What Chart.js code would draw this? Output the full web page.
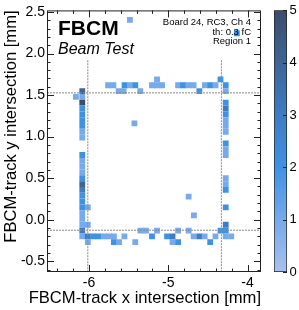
<!DOCTYPE html>
<html><head><meta charset="utf-8">
<script src="https://cdn.jsdelivr.net/npm/chart.js@4.4.1/dist/chart.umd.min.js"></script>
<style>
html,body{margin:0;padding:0;background:#fff;}
#wrap{position:relative;width:299px;height:310px;overflow:hidden;}
#main{position:absolute;left:0;top:0;}
#cbar{position:absolute;left:268px;top:0;}
</style></head><body>
<div id="wrap">
<canvas id="main" width="299" height="310"></canvas>
<canvas id="cbar" width="31" height="310"></canvas>
</div>
<script>
// ---- data (bin centres in mm, entries per bin) ----
const binX = [
  -5.142,-4.341,
  -5.759,-5.692,-5.551,-5.484,-5.416,-5.205,-5.142,-5.078,-4.876,-4.813,-4.747,-4.680,-4.538,-4.471,-4.404,-4.275,
  -6.085,-5.627,-5.563,-5.353,-4.608,-4.275,
  -6.085,-6.165,-6.085,-6.085,-6.085,-6.085,-6.085,-6.085,-6.085,-6.085,-6.085,-6.085,-6.085,-6.085,-6.085,-6.085,-6.085,-6.085,-6.085,-6.085,-6.085,-6.085,-6.085,-6.085,
  -6.015,-6.015,-6.015,-6.015,
  -4.275,-4.275,-4.275,-4.275,-4.275,-4.275,-4.275,-4.275,-4.275,-4.275,-4.275,-4.275,-4.275,-4.275,-4.275,-4.275,-4.341,-4.205,
  -5.351,-5.281,-5.142,-4.876,-4.743,
  -5.946,-5.882,-5.813,-5.749,-5.686,-5.553,-5.205,-5.015,-4.946,-4.680,-4.608,-4.541,-4.404,
  -5.686,-5.620,-5.416,-4.946,-4.876,-4.471,
  -5.427,-4.743,-4.676,-5.484,-4.135
];
const binY = [
  1.689,1.689,
  1.619,1.619,1.619,1.619,1.619,1.619,1.619,1.619,1.619,1.619,1.619,1.619,1.619,1.619,1.619,1.619,
  1.549,1.549,1.549,1.549,1.549,1.549,
  1.479,1.479,1.409,1.339,1.269,1.199,1.129,1.059,0.989,0.779,0.709,0.639,0.569,0.499,0.429,0.359,0.289,0.219,0.149,0.079,0.009,-0.061,-0.131,-0.201,
  0.149,-0.061,-0.201,-0.271,
  1.409,1.339,1.269,1.199,1.129,1.059,0.919,0.849,0.779,0.499,0.429,0.359,0.149,-0.061,-0.131,-0.201,-0.131,-0.201,
  -0.131,-0.131,-0.131,-0.131,-0.131,
  -0.201,-0.201,-0.201,-0.201,-0.201,-0.201,-0.201,-0.201,-0.201,-0.201,-0.201,-0.201,-0.201,
  -0.271,-0.271,-0.271,-0.271,-0.271,-0.271,
  1.159,0.277,0.051,2.406,2.245
];
const binCount = [
  1,2,
  1,1,2,1,2,1,1,1,1,2,1,1,1,2,1,2,
  4,1,1,1,2,1,
  1,1,5,2,2,2,2,1,1,2,1,1,1,2,4,3,2,2,2,1,1,1,3,1,
  1,1,3,1,
  2,3,2,1,1,1,2,1,1,1,1,2,2,3,2,1,2,1,
  1,1,1,1,1,
  2,2,1,1,1,1,2,2,3,1,3,1,1,
  2,1,1,1,2,2,
  1,1,1,1,2
];
const xTickValues = [-6, -5, -4];
const yTickValues = [-0.5, 0, 0.5, 1, 1.5, 2, 2.5];
const zTickValues = [0, 1, 2, 3, 4, 5];
const xRange = [-6.53, -3.83];
const yRange = [-0.63, 2.52];
const zRange = [0, 5];
const xMinorStep = 0.2;
const yMinorStep = 0.1;
const binSize = 0.07;
const cutX = [-6.015, -4.33];
const cutY = [1.527, -0.127];
const cutXTop = 1.92;
const xTitle = 'FBCM-track x intersection [mm]';
const yTitle = 'FBCM-track y intersection [mm]';
const labelMain = 'FBCM';
const labelSub = 'Beam Test';
const infoLines = ['Board 24, RC3, Ch 4', 'th: 0.3 fC', 'Region 1'];

// ---- styling ----
const FONT = '"Liberation Sans", Arial, Helvetica, sans-serif';
Chart.defaults.font.family = FONT;
Chart.defaults.color = '#000';
const palette = [[168,192,238],[118,170,236],[62,146,230],[62,124,196],[61,101,150],[60,76,107]];
function colorFor(v) {
  const t = Math.max(zRange[0], Math.min(zRange[1], v)) / (zRange[1] - zRange[0]) * (palette.length - 1);
  const i = Math.min(palette.length - 2, Math.floor(t));
  const f = t - i, a = palette[i], b = palette[i + 1];
  return 'rgb(' + a.map((c, k) => Math.round(c + (b[k] - c) * f)).join(',') + ')';
}

const binPoints = binX.map((x, k) => ({x: x, y: binY[k], c: binCount[k]}));
const cutLines = [
  [{x: cutX[0], y: cutXTop}, {x: cutX[0], y: yRange[0]}],
  [{x: cutX[1], y: cutXTop}, {x: cutX[1], y: yRange[0]}],
  [{x: xRange[0], y: cutY[0]}, {x: xRange[1], y: cutY[0]}],
  [{x: xRange[0], y: cutY[1]}, {x: xRange[1], y: cutY[1]}]
];

function minorValues(min, max, step) {
  const out = [];
  for (let k = Math.ceil(min / step - 1e-9); k <= Math.floor(max / step + 1e-9); k++) out.push(+(k * step).toFixed(6));
  return out;
}

const framePlugin = {
  id: 'frame',
  afterDraw(chart) {
    const {ctx, chartArea: a, scales: {x, y}} = chart;
    ctx.save();
    ctx.strokeStyle = '#222';
    ctx.lineWidth = 1;
    ctx.strokeRect(a.left + 0.5, a.top + 0.5, a.right - a.left - 1, a.bottom - a.top - 1);
    ctx.beginPath();
    minorValues(xRange[0], xRange[1], xMinorStep).forEach(v => {
      const major = xTickValues.some(t => Math.abs(t - v) < 1e-6);
      const L = major ? 7 : 3.5;
      const px = Math.round(x.getPixelForValue(v)) + 0.5;
      ctx.moveTo(px, a.bottom); ctx.lineTo(px, a.bottom - L);
      ctx.moveTo(px, a.top); ctx.lineTo(px, a.top + L);
    });
    minorValues(yRange[0], yRange[1], yMinorStep).forEach(v => {
      const major = yTickValues.some(t => Math.abs(t - v) < 1e-6);
      const L = major ? 7 : 3.5;
      const py = Math.round(y.getPixelForValue(v)) + 0.5;
      ctx.moveTo(a.left, py); ctx.lineTo(a.left + L, py);
      ctx.moveTo(a.right, py); ctx.lineTo(a.right - L, py);
    });
    ctx.stroke();

    ctx.fillStyle = '#000';
    ctx.textBaseline = 'alphabetic';
    ctx.textAlign = 'left';
    ctx.font = 'bold 21px ' + FONT;
    ctx.fillText(labelMain, 58, 35);
    ctx.font = 'italic 16px ' + FONT;
    ctx.fillText(labelSub, 58, 53.5);
    ctx.textAlign = 'right';
    ctx.font = '9.5px ' + FONT;
    infoLines.forEach((t, i) => ctx.fillText(t, 251, 25 + i * 9.7));
    ctx.font = '16.6px ' + FONT;
    ctx.fillText(xTitle, a.right, 302.5);
    ctx.translate(15.5, a.top);
    ctx.rotate(-Math.PI / 2);
    ctx.fillText(yTitle, 0, 0);
    ctx.restore();
  }
};

new Chart(document.getElementById('main'), {
  type: 'scatter',
  data: {
    datasets: [
      {
        data: binPoints,
        order: 2,
        pointStyle: 'rect',
        borderWidth: 0,
        pointRadius: (c) => {
          const ys = c.chart.scales.y;
          return Math.abs(ys.getPixelForValue(binSize) - ys.getPixelForValue(0)) / Math.SQRT2;
        },
        backgroundColor: (c) => colorFor(c.raw ? c.raw.c : 0)
      },
      ...cutLines.map(pts => ({
        data: pts,
        order: 0,
        showLine: true,
        pointRadius: 0,
        borderColor: '#8a8a8a',
        borderWidth: 1,
        borderDash: [2, 1]
      }))
    ]
  },
  options: {
    responsive: false,
    animation: false,
    events: [],
    layout: {padding: {left: 0, right: 38, top: 7, bottom: 0}},
    plugins: {legend: {display: false}, tooltip: {enabled: false}},
    scales: {
      x: {
        type: 'linear', min: xRange[0], max: xRange[1],
        afterBuildTicks: s => { s.ticks = xTickValues.map(v => ({value: v})); },
        afterFit: s => { s.height = 38; },
        grid: {display: false, drawTicks: false},
        border: {display: false},
        ticks: {autoSkip: false, maxRotation: 0, padding: 3, color: '#000', font: {size: 14},
                callback: v => String(v)}
      },
      y: {
        type: 'linear', min: yRange[0], max: yRange[1],
        afterBuildTicks: s => { s.ticks = yTickValues.map(v => ({value: v})); },
        afterFit: s => { s.width = 47; },
        grid: {display: false, drawTicks: false},
        border: {display: false},
        ticks: {autoSkip: false, padding: 2, color: '#000', font: {size: 14},
                callback: v => Number(v).toFixed(1)}
      }
    }
  },
  plugins: [framePlugin]
});

// ---- colour bar ----
const cbarTicks = {
  id: 'cbarTicks',
  afterDraw(chart) {
    const {ctx, chartArea: a, scales: {y}} = chart;
    ctx.save();
    ctx.strokeStyle = '#222';
    ctx.lineWidth = 1;
    ctx.beginPath();
    zTickValues.forEach(v => {
      const py = Math.round(y.getPixelForValue(v)) + 0.5;
      ctx.moveTo(a.right, py); ctx.lineTo(a.right - 4, py);
    });
    ctx.stroke();
    ctx.restore();
  }
};
new Chart(document.getElementById('cbar'), {
  type: 'bar',
  data: {
    labels: [''],
    datasets: [{
      data: [[zRange[0], zRange[1]]],
      barPercentage: 1, categoryPercentage: 1,
      borderColor: '#222', borderWidth: 1, borderSkipped: false,
      backgroundColor: (c) => {
        const ch = c.chart;
        if (!ch.chartArea) return colorFor(2);
        const ys = ch.scales.y;
        const g = ch.ctx.createLinearGradient(0, ys.getPixelForValue(zRange[0]), 0, ys.getPixelForValue(zRange[1]));
        palette.forEach((p, i) => g.addColorStop(i / (palette.length - 1), 'rgb(' + p.join(',') + ')'));
        return g;
      }
    }]
  },
  options: {
    responsive: false,
    animation: false,
    events: [],
    layout: {padding: {left: 6, right: 0, top: 8, bottom: 38}},
    plugins: {legend: {display: false}, tooltip: {enabled: false}},
    scales: {
      x: {display: false},
      y: {
        position: 'right', min: zRange[0], max: zRange[1],
        afterBuildTicks: s => { s.ticks = zTickValues.map(v => ({value: v})); },
        afterFit: s => { s.width = 12; },
        grid: {display: false, drawTicks: false},
        border: {display: false},
        ticks: {autoSkip: false, padding: 2.5, color: '#000', font: {size: 13}}
      }
    }
  },
  plugins: [cbarTicks]
});
</script>
</body></html>
